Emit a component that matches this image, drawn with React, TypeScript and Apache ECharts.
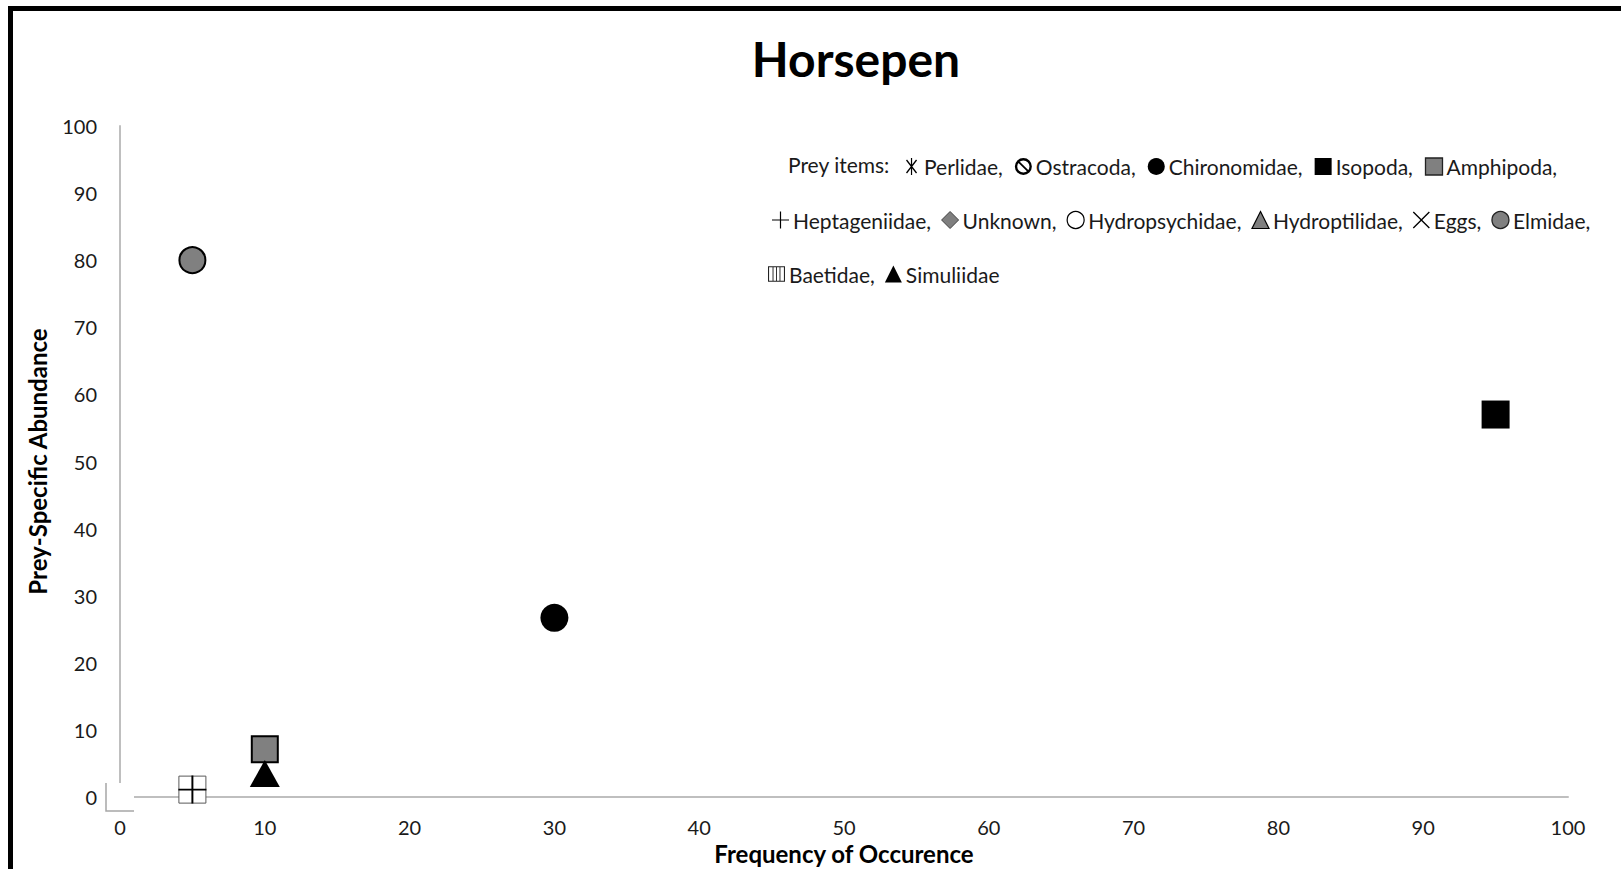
import React, { useEffect, useRef } from 'react';
import * as echarts from 'echarts';

// ---------- data ----------
const titleText = 'Horsepen';
const xAxisTitle = 'Frequency of Occurence';
const yAxisTitle = 'Prey-Specific Abundance';
const legendLead = 'Prey items:';

const perlidae: number[][] = [];
const ostracoda: number[][] = [];
const chironomidae: number[][] = [[30, 26.7]];
const isopoda: number[][] = [[95, 57]];
const amphipoda: number[][] = [[10, 7.1]];
const heptageniidae: number[][] = [[5, 1.1]];
const unknown: number[][] = [];
const hydropsychidae: number[][] = [];
const hydroptilidae: number[][] = [];
const eggs: number[][] = [];
const elmidae: number[][] = [[5, 80]];
const baetidae: number[][] = [[5, 1.1]];
const simuliidae: number[][] = [[10, 3.5]];
const originMark: number[][] = [[0, 0]];

const legendRow1 = ['Perlidae', 'Ostracoda', 'Chironomidae', 'Isopoda', 'Amphipoda'];
const legendRow2 = ['Heptageniidae', 'Unknown', 'Hydropsychidae', 'Hydroptilidae', 'Eggs', 'Elmidae'];
const legendRow3 = ['Baetidae', 'Simuliidae'];
const lastLegendName = 'Simuliidae';

// ---------- symbols ----------
const PERLIDAE_PATH =
  'path://M6.3,0 L7.7,0 L7.7,20 L6.3,20 Z M0.5,2.8 L1.7,1.9 L13.5,17.2 L12.3,18.1 Z M13.5,2.8 L1.7,18.1 L0.5,17.2 L12.3,1.9 Z';
const OSTRACODA_PATH =
  'path://M10,0 A10,10 0 1,1 10,20 A10,10 0 1,1 10,0 Z M10,2.8 A7.2,7.2 0 1,0 10,17.2 A7.2,7.2 0 1,0 10,2.8 Z M4,5.5 L5.5,4 L16,14.5 L14.5,16 Z';
const PLUS_PATH = 'path://M9.3,0 L10.7,0 L10.7,9.3 L20,9.3 L20,10.7 L10.7,10.7 L10.7,20 L9.3,20 L9.3,10.7 L0,10.7 L0,9.3 L9.3,9.3 Z';
const X_PATH = 'path://M1,2 L2,1 L10,9 L18,1 L19,2 L11,10 L19,18 L18,19 L10,11 L2,19 L1,18 L9,10 Z';
const BAETIDAE_PATH =
  'path://M0,0 L22,0 L22,20 L0,20 Z M1.4,1.4 L1.4,18.6 L20.6,18.6 L20.6,1.4 Z M5.9,1.4 L7.1,1.4 L7.1,18.6 L5.9,18.6 Z M10.4,1.4 L11.6,1.4 L11.6,18.6 L10.4,18.6 Z M14.9,1.4 L16.1,1.4 L16.1,18.6 L14.9,18.6 Z';

const FONT = 'Lato';

type SeriesDef = {
  name: string;
  data: number[][];
  symbol: string;
  size: number | number[];
  itemStyle: any;
  z?: number;
  legendIcon?: string;
  legendStyle?: any;
};

const seriesDefs: SeriesDef[] = [
  { name: 'Perlidae', data: perlidae, symbol: PERLIDAE_PATH, size: 18, itemStyle: { color: '#000' } },
  { name: 'Ostracoda', data: ostracoda, symbol: OSTRACODA_PATH, size: 18, itemStyle: { color: '#000' } },
  { name: 'Chironomidae', data: chironomidae, symbol: 'circle', size: 28, itemStyle: { color: '#000' } },
  { name: 'Isopoda', data: isopoda, symbol: 'rect', size: 28, itemStyle: { color: '#000' } },
  {
    name: 'Amphipoda', data: amphipoda, symbol: 'rect', size: 26,
    itemStyle: { color: '#808080', borderColor: '#000', borderWidth: 2 },
    legendStyle: { color: '#808080', borderColor: '#222', borderWidth: 1.3 },
  },
  { name: 'Heptageniidae', data: heptageniidae, symbol: PLUS_PATH, size: 28, itemStyle: { color: '#000' }, z: 5 },
  { name: 'Unknown', data: unknown, symbol: 'diamond', size: 18, itemStyle: { color: '#7f7f7f', borderColor: '#404040', borderWidth: 1 } },
  { name: 'Hydropsychidae', data: hydropsychidae, symbol: 'circle', size: 18, itemStyle: { color: '#fff', borderColor: '#000', borderWidth: 1.2 } },
  { name: 'Hydroptilidae', data: hydroptilidae, symbol: 'triangle', size: 18, itemStyle: { color: '#7f7f7f', borderColor: '#000', borderWidth: 1.2 } },
  { name: 'Eggs', data: eggs, symbol: X_PATH, size: 18, itemStyle: { color: '#000' } },
  {
    name: 'Elmidae', data: elmidae, symbol: 'circle', size: 26,
    itemStyle: { color: '#808080', borderColor: '#000', borderWidth: 2 },
    legendStyle: { color: '#808080', borderColor: '#222', borderWidth: 1.3 },
  },
  {
    name: 'Baetidae', data: baetidae, symbol: 'rect', size: 27,
    itemStyle: { color: '#fff', borderColor: '#595959', borderWidth: 1 },
    legendIcon: BAETIDAE_PATH, legendStyle: { color: '#222', borderWidth: 0 },
  },
  { name: 'Simuliidae', data: simuliidae, symbol: 'triangle', size: [30, 27], itemStyle: { color: '#000' } },
];

function legendData(names: string[]) {
  return names.map((n) => {
    const d = seriesDefs.find((s) => s.name === n)!;
    const style = d.legendStyle || d.itemStyle;
    return { name: n, icon: d.legendIcon || d.symbol, itemStyle: { borderWidth: 0, ...style } };
  });
}

function makeLegend(names: string[], left: number, top: number, gap: number) {
  return {
    data: legendData(names),
    left,
    top,
    orient: 'horizontal',
    padding: 0,
    itemGap: gap,
    itemWidth: 17,
    itemHeight: 17,
    selectedMode: false,
    formatter: (name: string) => (name === lastLegendName ? name : name + ','),
    textStyle: { fontFamily: FONT, fontSize: 21, color: '#1a1a1a', padding: [0, 0, 0, -1] },
  };
}

const option: any = {
  animation: false,
  backgroundColor: '#fff',
  textStyle: { fontFamily: FONT },
  title: {
    text: titleText,
    left: 856,
    top: 34,
    textAlign: 'center',
    padding: 0,
    textStyle: { fontFamily: FONT, fontWeight: 'bold', fontSize: 48, color: '#000' },
  },
  graphic: [
    {
      type: 'text',
      left: 788,
      top: 154,
      style: { text: legendLead, fontFamily: FONT, fontSize: 21, fill: '#1a1a1a' },
    },
  ],
  legend: [
    makeLegend(legendRow1, 906, 156, 12),
    makeLegend(legendRow2, 772, 209.5, 10),
    makeLegend(legendRow3, 768, 263.5, 10),
  ],
  grid: { left: 120, right: 53, top: 126, bottom: 72, containLabel: false, outerBoundsMode: 'none' },
  xAxis: {
    type: 'value',
    min: 0,
    max: 100,
    interval: 10,
    name: xAxisTitle,
    nameLocation: 'middle',
    nameGap: 34,
    nameTextStyle: { fontFamily: FONT, fontWeight: 'bold', fontSize: 24, color: '#000' },
    axisLine: { show: true, lineStyle: { color: '#bfbfbf', width: 2 } },
    axisTick: { show: false },
    splitLine: { show: false },
    axisLabel: { fontFamily: FONT, fontSize: 20, color: '#1a1a1a', margin: 20 },
  },
  yAxis: {
    type: 'value',
    min: 0,
    max: 100,
    interval: 10,
    name: yAxisTitle,
    nameLocation: 'middle',
    nameGap: 71,
    nameTextStyle: { fontFamily: FONT, fontWeight: 'bold', fontSize: 24, color: '#000' },
    axisLine: { show: true, lineStyle: { color: '#bfbfbf', width: 2 } },
    axisTick: { show: false },
    splitLine: { show: false },
    axisLabel: { fontFamily: FONT, fontSize: 20, color: '#1a1a1a', margin: 23 },
  },
  series: [
    {
      type: 'custom',
      name: 'origin-marker',
      data: originMark,
      silent: true,
      clip: false,
      z: 4,
      renderItem: (_p: any, api: any) => {
        const p = api.coord([api.value(0), api.value(1)]);
        const h = 14;
        return {
          type: 'group',
          children: [
            { type: 'rect', shape: { x: p[0] - h, y: p[1] - h, width: 2 * h, height: 2 * h }, style: { fill: '#fff' } },
            {
              type: 'polyline',
              shape: { points: [[p[0] - h, p[1] - h], [p[0] - h, p[1] + h], [p[0] + h, p[1] + h]] },
              style: { stroke: '#a6a6a6', lineWidth: 1.5, fill: null },
            },
          ],
        };
      },
    },
    ...seriesDefs.map((d) => ({
      type: 'scatter',
      name: d.name,
      data: d.data,
      symbol: d.symbol,
      symbolSize: d.size,
      symbolKeepAspect: true,
      itemStyle: { opacity: 1, ...d.itemStyle },
      z: d.z ?? 3,
      clip: false,
      emphasis: { disabled: true },
    })),
  ],
};

export default function App() {
  const ref = useRef<HTMLDivElement>(null);
  useEffect(() => {
    const chart = echarts.init(ref.current!, null, { renderer: 'svg' });
    chart.setOption(option);
    return () => chart.dispose();
  }, []);
  return (
    <>
      <div
        ref={ref}
        style={{ position: 'fixed', left: 0, top: 0, width: 1621, height: 869, background: '#fff' }}
      />
      <div
        style={{
          position: 'fixed',
          left: 8,
          top: 6,
          width: 1700,
          height: 1000,
          borderLeft: '5px solid #000',
          borderTop: '5px solid #000',
          pointerEvents: 'none',
        }}
      />
    </>
  );
}
